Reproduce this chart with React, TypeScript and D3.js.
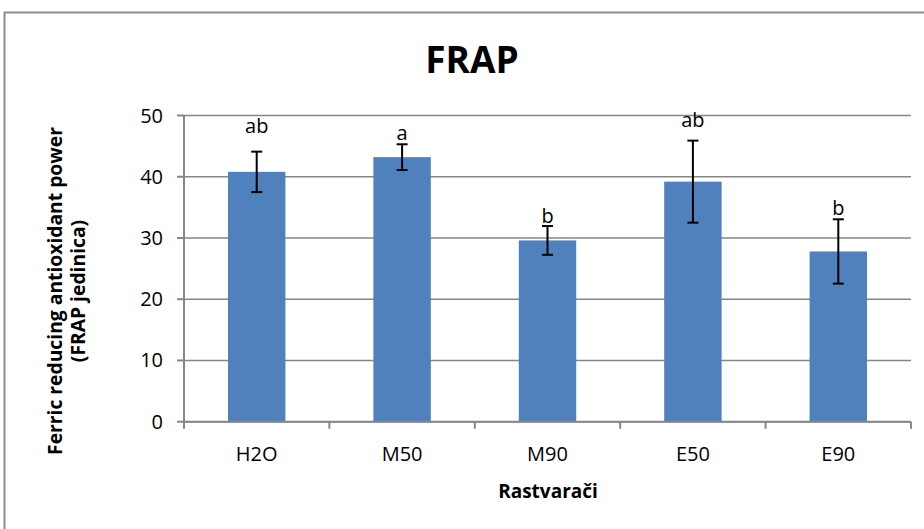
import React from "react";
import * as d3 from "d3";

// FRAP values per solvent, with standard deviation and significance letters
const categories = ["H2O", "M50", "M90", "E50", "E90"];
const meanValues = [40.8, 43.2, 29.6, 39.2, 27.8];
const errorValues = [3.3, 2.1, 2.35, 6.7, 5.25];
const groupLetters = ["ab", "a", "b", "ab", "b"];
// height (in FRAP units) at which each letter's baseline sits
const letterHeights = [47.1, 46.0, 32.4, 48.1, 33.75];
const yTicks = [0, 10, 20, 30, 40, 50];

const W = 924;
const H = 529;
const FONT = "'Open Sans', sans-serif";
const GRID = "#868686";
const BAR = "#4F81BD";

export default function App() {
  const plotLeft = 184;
  const plotRight = 911;
  const plotTop = 115.5;
  const plotBottom = 421.7;

  const x = d3.scaleBand<string>().domain(categories).range([plotLeft, plotRight]).padding(0);
  const y = d3.scaleLinear().domain([0, 50]).range([plotBottom, plotTop]);
  const barW = x.bandwidth() * 0.395;
  const capW = 11;

  return (
    <svg
      width={W}
      height={H}
      style={{ position: "absolute", left: 0, top: 0, background: "#fff" }}
      fontFamily={FONT}
    >
      <rect x={0} y={0} width={W} height={H} fill="#fff" />
      {/* chart frame */}
      <rect x={4.5} y={12.5} width={W + 20} height={H + 20} fill="none" stroke="#8c8c8c" strokeWidth={2} />

      <text x={472} y={73} textAnchor="middle" fontSize={37} fontWeight="bold" fill="#000">
        FRAP
      </text>

      {/* gridlines */}
      {yTicks.map((t) => (
        <line key={"g" + t} x1={plotLeft} x2={plotRight} y1={y(t)} y2={y(t)} stroke={GRID} strokeWidth={1.5} />
      ))}

      {/* bars */}
      {categories.map((c, i) => (
        <rect
          key={"b" + c}
          x={(x(c) as number) + x.bandwidth() / 2 - barW / 2}
          y={y(meanValues[i])}
          width={barW}
          height={y(0) - y(meanValues[i])}
          fill={BAR}
        />
      ))}

      {/* error bars */}
      {categories.map((c, i) => {
        const cx = (x(c) as number) + x.bandwidth() / 2;
        const top = y(meanValues[i] + errorValues[i]);
        const bot = y(meanValues[i] - errorValues[i]);
        return (
          <g key={"e" + c} stroke="#000" strokeWidth={2}>
            <line x1={cx} x2={cx} y1={top} y2={bot} />
            <line x1={cx - capW / 2} x2={cx + capW / 2} y1={top} y2={top} />
            <line x1={cx - capW / 2} x2={cx + capW / 2} y1={bot} y2={bot} />
          </g>
        );
      })}

      {/* significance letters */}
      {categories.map((c, i) => (
        <text
          key={"l" + c}
          x={(x(c) as number) + x.bandwidth() / 2}
          y={y(letterHeights[i])}
          textAnchor="middle"
          fontSize={20}
          fill="#000"
        >
          {groupLetters[i]}
        </text>
      ))}

      {/* y axis */}
      <line x1={plotLeft} x2={plotLeft} y1={plotTop} y2={plotBottom} stroke={GRID} strokeWidth={2} />
      {yTicks.map((t) => (
        <g key={"yt" + t}>
          <line x1={plotLeft - 7} x2={plotLeft} y1={y(t)} y2={y(t)} stroke={GRID} strokeWidth={2} />
          <text x={163} y={y(t)} dy="0.35em" textAnchor="end" fontSize={20} fill="#000">
            {t}
          </text>
        </g>
      ))}

      {/* x axis */}
      <line x1={plotLeft} x2={plotRight} y1={plotBottom} y2={plotBottom} stroke={GRID} strokeWidth={2} />
      {categories.map((c) => (
        <line
          key={"xt" + c}
          x1={x(c) as number}
          x2={x(c) as number}
          y1={plotBottom}
          y2={plotBottom + 7}
          stroke={GRID}
          strokeWidth={2}
        />
      ))}
      <line x1={plotRight} x2={plotRight} y1={plotBottom} y2={plotBottom + 7} stroke={GRID} strokeWidth={2} />
      {categories.map((c) => (
        <text
          key={"xl" + c}
          x={(x(c) as number) + x.bandwidth() / 2}
          y={454}
          dy="0.35em"
          textAnchor="middle"
          fontSize={20}
          fill="#000"
        >
          {c}
        </text>
      ))}

      <text x={548} y={498} textAnchor="middle" fontSize={19} fontWeight="bold" fill="#000">
        Rastvarači
      </text>

      <g transform="translate(55,291) rotate(-90)">
        <text x={0} y={0} dy="0.35em" textAnchor="middle" fontSize={19.3} fontWeight="bold" fill="#000">
          Ferric reducing antioxidant power
        </text>
        <text x={0} y={23} dy="0.35em" textAnchor="middle" fontSize={19.3} fontWeight="bold" fill="#000">
          (FRAP jedinica)
        </text>
      </g>
    </svg>
  );
}
